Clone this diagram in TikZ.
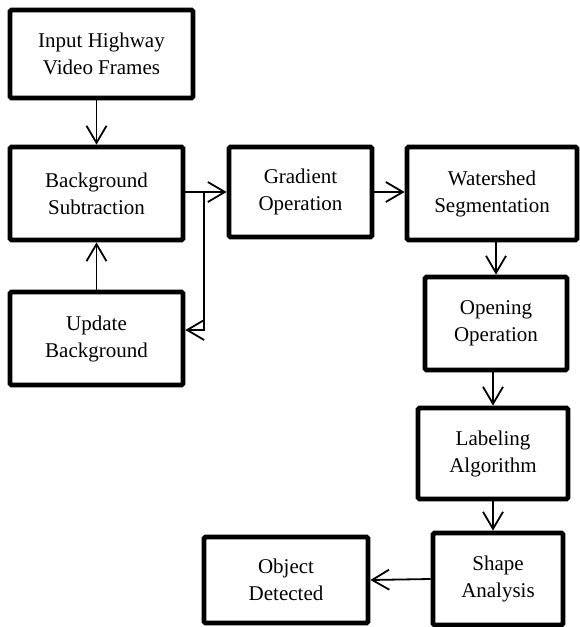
\documentclass[tikz,border=0pt]{standalone}
\usepackage{fontspec}
\setmainfont{Liberation Serif}
\usetikzlibrary{arrows.meta}
\begin{document}
\begin{tikzpicture}
			[x=0.5pt, y=-0.5pt, font=\fontsize{10.5}{13.5}\selectfont,
			block/.style={draw, line width=2.4pt, rounded corners=0.8pt, align=center, inner sep=0pt},
			arr/.style={-{Straight Barb[length=8.5pt,width=10pt]}, line width=0.9pt}]
			\useasboundingbox (0,0) rectangle (579,627);
			\node[block, minimum width=91.5pt, minimum height=44pt] (in) at (101.5,54) {Input Highway\\Video Frames};
			\node[block, minimum width=86.5pt, minimum height=46.5pt] (bg) at (96.5,193.5) {Background\\Subtraction};
			\node[block, minimum width=86.5pt, minimum height=46.5pt] (upd) at (96.5,338.5) {Update\\Background};
			\node[block, minimum width=71.5pt, minimum height=45pt] (grad) at (300.5,192) {Gradient\\Operation};
			\node[block, minimum width=85pt, minimum height=46.5pt] (ws) at (492,193.5) {Watershed\\Segmentation};
			\node[block, minimum width=71pt, minimum height=46.5pt] (open) at (496,323.5) {Opening\\Operation};
			\node[block, minimum width=75pt, minimum height=45.5pt] (lab) at (493,453.5) {Labeling\\Algorithm};
			\node[block, minimum width=65pt, minimum height=46pt] (shape) at (498,579) {Shape\\Analysis};
			\node[block, minimum width=82pt, minimum height=43pt] (obj) at (286,580) {Object\\Detected};
			\coordinate (br) at (204,192);
			\draw[arr] (in.south -| bg) -- (bg.north);
			\draw[arr] (upd.north) -- (bg.south);
			\draw[arr] (bg.east |- grad) -- (grad.west);
			\draw[arr] (br) |- ([yshift=4.25pt]upd.east);
			\draw[arr] (grad.east) -- (grad.east -| ws.west);
			\draw[arr] (ws.south -| open) -- (open.north);
			\draw[arr] (open.south -| lab) -- (lab.north);
			\draw[arr] (lab.south) -- (lab.south |- shape.north);
			\draw[arr] (shape.west) -- (obj.east);
			\end{tikzpicture}
\end{document}
